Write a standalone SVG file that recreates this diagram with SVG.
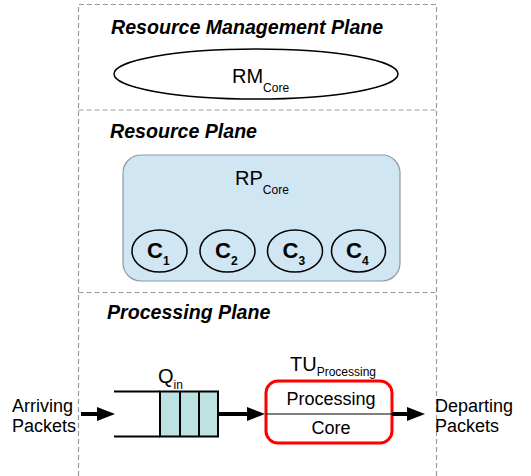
<svg xmlns="http://www.w3.org/2000/svg" width="531" height="476" viewBox="0 0 531 476">
  <style>
    .frame { fill: none; stroke: #9a9a9a; stroke-width: 1.2; stroke-dasharray: 5 3; }
    .title { font-family: "Liberation Sans", Arial, sans-serif; font-size: 19.6px; font-weight: bold; font-style: italic; fill: #000; }
    .lbl { font-family: "Liberation Sans", Arial, sans-serif; font-size: 18px; fill: #000; }
    .big { font-size: 20px; }
    .sub { font-size: 12px; fill: #000; }
    .core { font-family: "Liberation Sans", Arial, sans-serif; font-size: 22px; font-weight: bold; fill: #000; }
    .csub { font-size: 12px; font-weight: bold; }
    .flow { stroke: #000; stroke-width: 4; fill: none; }
    .qline { stroke: #000; stroke-width: 2; fill: none; }
  </style>
  <defs>
    <marker id="head" markerUnits="userSpaceOnUse" viewBox="0 0 18 14" refX="0" refY="7" markerWidth="18" markerHeight="14" orient="auto">
      <path d="M0,0 L18,7 L0,14 z" fill="#000"/>
    </marker>
  </defs>

  <!-- plane frame and separators -->
  <g id="planes">
    <path class="frame" d="M78.5,476 V4.5 H436.5 V476"/>
    <line class="frame" x1="78.5" y1="110" x2="436.5" y2="110"/>
    <line class="frame" x1="78.5" y1="292.5" x2="436.5" y2="292.5"/>
    <text class="title" x="111" y="34">Resource Management Plane</text>
    <text class="title" x="110" y="138">Resource Plane</text>
    <text class="title" x="107" y="319">Processing Plane</text>
  </g>

  <!-- resource manager -->
  <g id="rm-core">
    <ellipse cx="256" cy="74" rx="142" ry="25" fill="#fff" stroke="#000" stroke-width="1.5"/>
    <text class="lbl big" x="232" y="83">RM<tspan class="sub" dy="9">Core</tspan></text>
  </g>

  <!-- resource plane core pool -->
  <g id="rp-core">
    <rect x="123" y="155" width="277" height="126" rx="18" fill="#d0e6f3" stroke="#8d9aa3" stroke-width="1.2"/>
    <text class="lbl big" x="235" y="185">RP<tspan class="sub" dy="9">Core</tspan></text>
  </g>
  <g id="c1">
    <ellipse cx="159.5" cy="251" rx="27.5" ry="21" fill="none" stroke="#000" stroke-width="1.5"/>
    <text class="core" x="147" y="258">C<tspan class="csub" dy="7">1</tspan></text>
  </g>
  <g id="c2">
    <ellipse cx="227.5" cy="251" rx="27.5" ry="21" fill="none" stroke="#000" stroke-width="1.5"/>
    <text class="core" x="215" y="258">C<tspan class="csub" dy="7">2</tspan></text>
  </g>
  <g id="c3">
    <ellipse cx="295" cy="251" rx="27.5" ry="21" fill="none" stroke="#000" stroke-width="1.5"/>
    <text class="core" x="282.5" y="258">C<tspan class="csub" dy="7">3</tspan></text>
  </g>
  <g id="c4">
    <ellipse cx="358.5" cy="251" rx="27" ry="21" fill="none" stroke="#000" stroke-width="1.5"/>
    <text class="core" x="346" y="258">C<tspan class="csub" dy="7">4</tspan></text>
  </g>

  <!-- processing plane -->
  <g id="arriving">
    <text class="lbl" x="12" y="412">Arriving</text>
    <text class="lbl" x="12" y="432">Packets</text>
  </g>
  <g id="queue">
    <line class="qline" x1="114" y1="391.5" x2="160" y2="391.5"/>
    <line class="qline" x1="114" y1="436.5" x2="160" y2="436.5"/>
    <rect x="160" y="391.5" width="58" height="45" fill="#bce2e2" stroke="#000" stroke-width="2"/>
    <line class="qline" x1="180" y1="391.5" x2="180" y2="436.5"/>
    <line class="qline" x1="199" y1="391.5" x2="199" y2="436.5"/>
    <text class="lbl big" x="158" y="383">Q<tspan class="sub" dy="6">in</tspan></text>
  </g>
  <g id="tu-processing">
    <rect x="266" y="381" width="126" height="62" rx="12" fill="#fff" stroke="#f00" stroke-width="3"/>
    <line x1="266" y1="414" x2="392" y2="414" stroke="#000" stroke-width="1"/>
    <text class="lbl" x="331" y="405" text-anchor="middle">Processing</text>
    <text class="lbl" x="331" y="434" text-anchor="middle">Core</text>
    <text class="lbl big" x="290" y="371">TU<tspan class="sub" dy="5">Processing</tspan></text>
  </g>
  <g id="departing">
    <text class="lbl" x="435" y="412">Departing</text>
    <text class="lbl" x="435" y="432">Packets</text>
  </g>

  <!-- packet flow -->
  <g id="connectors">
    <line class="flow" x1="81" y1="414" x2="97" y2="414" marker-end="url(#head)"/>
    <line class="flow" x1="218" y1="414" x2="247" y2="414" marker-end="url(#head)"/>
    <line class="flow" x1="392" y1="414" x2="407" y2="414" marker-end="url(#head)"/>
  </g>
</svg>
